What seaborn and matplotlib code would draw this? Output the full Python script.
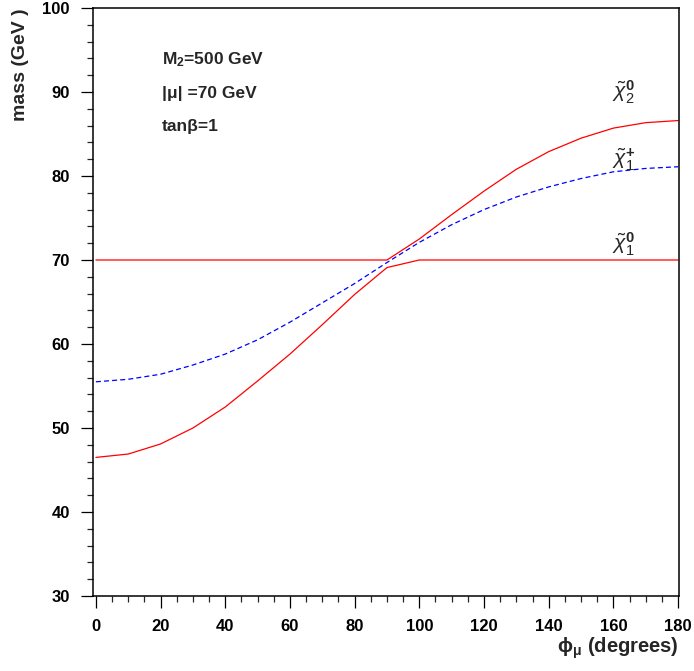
import matplotlib
matplotlib.use("Agg")
import matplotlib.pyplot as plt
import seaborn as sns
import pandas as pd
import numpy as np

phi = [0, 10, 20, 30, 40, 50, 60, 70, 80, 90, 100, 110, 120, 130, 140, 150, 160, 170, 180]
chi1_0 = [46.5, 46.9, 48.1, 50.0, 52.5, 55.6, 58.8, 62.3, 65.9, 69.1, 70.0, 70.0, 70.0, 70.0, 70.0, 70.0, 70.0, 70.0, 70.0]
chi2_0 = [70.0, 70.0, 70.0, 70.0, 70.0, 70.0, 70.0, 70.0, 70.0, 70.0, 72.5, 75.4, 78.2, 80.8, 82.9, 84.5, 85.7, 86.35, 86.6]
chi1_p = [55.5, 55.8, 56.4, 57.5, 58.8, 60.5, 62.6, 64.9, 67.2, 69.7, 72.1, 74.2, 76.0, 77.5, 78.7, 79.7, 80.5, 80.9, 81.1]

sns.set_style("ticks")
plt.rcParams['font.family'] = ['Liberation Sans', 'DejaVu Sans']
plt.rcParams['mathtext.fontset'] = 'custom'
plt.rcParams['mathtext.rm'] = 'Liberation Sans'
plt.rcParams['mathtext.it'] = 'Liberation Sans:italic'
plt.rcParams['mathtext.bf'] = 'Liberation Sans:bold'

df = pd.DataFrame({"phi": phi, "chi1_0": chi1_0, "chi2_0": chi2_0, "chi1_p": chi1_p})

fig = plt.figure(figsize=(6.94, 6.71), dpi=100)
ax = fig.add_axes([93/694, 1 - 596/671, 586/694, 588/671])

sns.lineplot(data=df, x="phi", y="chi1_0", ax=ax, color="#ff0000", linewidth=0.9)
sns.lineplot(data=df, x="phi", y="chi2_0", ax=ax, color="#ff0000", linewidth=0.9)
sns.lineplot(data=df, x="phi", y="chi1_p", ax=ax, color="#0000ff", linewidth=0.9)
ax.lines[-1].set_dashes([4, 2.5])

ax.set_xlim(-0.9, 180.3)
ax.set_ylim(30, 100)
ax.set_xticks(np.arange(0, 181, 20))
ax.set_xticks(np.arange(0, 181, 5), minor=True)
ax.set_yticks(np.arange(30, 101, 10))
ax.set_yticks(np.arange(30, 101, 2), minor=True)

for sp in ax.spines.values():
    sp.set_linewidth(1.1)
    sp.set_color("black")
ax.tick_params(axis='both', which='major', length=8.6, width=0.9, direction='out',
               labelsize=12, pad=8, colors='black')
ax.tick_params(axis='both', which='minor', length=4.5, width=0.9, direction='out')
for lab in ax.get_xticklabels() + ax.get_yticklabels():
    lab.set_fontweight('bold')

ax.set_xlabel(r"$\mathregular{\phi_{\mu}}$ (degrees)", fontsize=14.5, fontweight='bold', loc='right')
ax.xaxis.set_label_coords(1.0, -0.068)
ax.set_ylabel("mass (GeV )", fontsize=14, fontweight='bold', loc='top')
ax.yaxis.set_label_coords(-0.11, 1.0)

ax.text(0.117, 0.912, r"M$_{\mathbf{2}}$=500 GeV", transform=ax.transAxes,
        fontsize=12.5, fontweight='bold', va='center')
ax.text(0.117, 0.855, "|μ| =70 GeV", transform=ax.transAxes,
        fontsize=12.5, fontweight='bold', va='center')
ax.text(0.117, 0.798, "tanβ=1", transform=ax.transAxes,
        fontsize=12.5, fontweight='bold', va='center')

ax.text(0.905, 0.857, r"$\tilde{\chi}_{1}^{\mathbf{0}}$".replace("_{1}", "_{2}"), transform=ax.transAxes,
        fontsize=15, va='center', ha='center')
ax.text(0.905, 0.742, r"$\tilde{\chi}_{1}^{\mathbf{+}}$", transform=ax.transAxes,
        fontsize=15, va='center', ha='center')
ax.text(0.905, 0.598, r"$\tilde{\chi}_{1}^{\mathbf{0}}$", transform=ax.transAxes,
        fontsize=15, va='center', ha='center')

fig.savefig("out.png", dpi=100)
